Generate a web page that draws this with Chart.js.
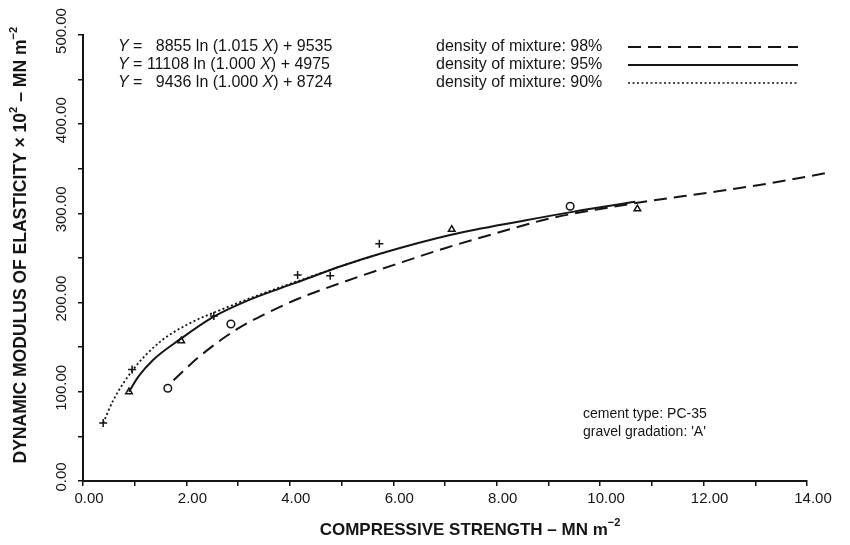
<!DOCTYPE html>
<html>
<head>
<meta charset="utf-8">
<script src="https://cdn.jsdelivr.net/npm/chart.js@4.4.1/dist/chart.umd.min.js"></script>
<style>
  html, body { margin: 0; background: #fff; }
  #wrap { width: 850px; height: 545px; position: relative; }
</style>
</head>
<body>
<div id="wrap"><canvas id="c"></canvas></div>
<script>
// fitted curves
const curve98X = [1.75, 2.26, 2.97, 3.55, 4.15, 5.08, 6.0, 7.0, 8.0, 9.0, 10.0, 10.85, 12.3, 13.3, 14.35];
const curve98Y = [113, 140, 170, 188, 204, 224, 242, 261, 278, 294, 305, 313, 325, 334, 345];
const curve95X = [0.89, 1.07, 1.36, 1.88, 2.52, 3.17, 3.81, 4.2, 5.0, 5.76, 7.12, 8.54, 9.49, 10.68];
const curve95Y = [100, 117, 136, 159, 184, 202, 216, 224, 241, 255, 276, 292, 302, 313];
const curve90X = [0.39, 0.59, 0.97, 1.49, 2.07, 2.71, 3.42, 4.1, 5.0, 5.7];
const curve90Y = [65, 91, 125, 156, 177, 193, 209, 223, 241, 254];

// measured points
const circlesX = [1.64, 2.86, 9.42, 14.2];
const circlesY = [104, 176, 308, 338];
const trianglesX = [0.89, 1.9, 7.13, 10.72];
const trianglesY = [100, 157, 282, 305];
const crossesX = [0.39, 0.95, 2.53, 4.15, 4.78, 5.73];
const crossesY = [65, 125, 185, 231, 230, 266];

// ticks
const xTicks = [0, 2, 4, 6, 8, 10, 12, 14];
const yTicks = [0, 100, 200, 300, 400, 500];

const ink = '#151515';
const pts = (xs, ys) => xs.map((x, i) => ({ x: x, y: ys[i] }));

// draws a run of text pieces (italic / superscript) starting at x
function drawParts(ctx, parts, x, y, size, weight) {
  let cx = x;
  parts.forEach(p => {
    const s = p.sup ? size * 0.65 : size;
    ctx.font = (p.i ? 'italic ' : '') + (weight || '') + ' ' + s + 'px "Liberation Sans"';
    ctx.fillText(p.t, cx, p.sup ? y - size * 0.4 : y);
    cx += ctx.measureText(p.t).width;
  });
  return cx - x;
}
function partsWidth(ctx, parts, size, weight) {
  let w = 0;
  parts.forEach(p => {
    const s = p.sup ? size * 0.65 : size;
    ctx.font = (p.i ? 'italic ' : '') + (weight || '') + ' ' + s + 'px "Liberation Sans"';
    w += ctx.measureText(p.t).width;
  });
  return w;
}

const legendRows = [
  { eq: [{ t: 'Y', i: true }, { t: ' =   8855 ln (1.015 ' }, { t: 'X', i: true }, { t: ') + 9535' }], label: 'density of mixture: 98%', dash: [13, 7] },
  { eq: [{ t: 'Y', i: true }, { t: ' = 11108 ln (1.000 ' }, { t: 'X', i: true }, { t: ') + 4975' }], label: 'density of mixture: 95%', dash: [] },
  { eq: [{ t: 'Y', i: true }, { t: ' =   9436 ln (1.000 ' }, { t: 'X', i: true }, { t: ') + 8724' }], label: 'density of mixture: 90%', dash: [2, 2.5] }
];

const textPlugin = {
  id: 'texts',
  afterDraw(chart) {
    const ctx = chart.ctx;
    const ys = chart.scales.y;
    ctx.save();
    ctx.fillStyle = ink;
    ctx.textBaseline = 'middle';
    ctx.textAlign = 'left';

    // legend block
    legendRows.forEach((r, i) => {
      const y = 47 + i * 18;
      drawParts(ctx, r.eq, 118, y, 16, '');
      ctx.font = '16px "Liberation Sans"';
      ctx.fillText(r.label, 436, y);
      ctx.save();
      ctx.strokeStyle = ink;
      ctx.lineWidth = r.dash.length && r.dash[0] < 3 ? 1.6 : 2;
      ctx.setLineDash(r.dash);
      ctx.beginPath();
      ctx.moveTo(628, y);
      ctx.lineTo(798, y);
      ctx.stroke();
      ctx.restore();
    });

    // note bottom right
    ctx.font = '14px "Liberation Sans"';
    ctx.fillText('cement type: PC-35', 583, 414);
    ctx.fillText("gravel gradation: 'A'", 583, 432);

    // y tick labels, rotated
    ctx.font = '15px "Liberation Sans"';
    ctx.textAlign = 'center';
    yTicks.forEach(v => {
      const py = ys.getPixelForValue(v);
      ctx.save();
      ctx.translate(62, py - 4);
      ctx.rotate(-Math.PI / 2);
      ctx.fillText(v.toFixed(2), 0, 0);
      ctx.restore();
    });

    // axis titles
    ctx.textAlign = 'left';
    const xt = [{ t: 'COMPRESSIVE STRENGTH – MN m' }, { t: '−2', sup: true }];
    const xw = partsWidth(ctx, xt, 17, 'bold');
    drawParts(ctx, xt, 470 - xw / 2, 530, 17, 'bold');

    const yt = [{ t: 'DYNAMIC MODULUS OF ELASTICITY × 10' }, { t: '2', sup: true }, { t: ' – MN m' }, { t: '−2', sup: true }];
    const yw = partsWidth(ctx, yt, 17.5, 'bold');
    ctx.translate(21, 245);
    ctx.rotate(-Math.PI / 2);
    drawParts(ctx, yt, -yw / 2, 0, 17.5, 'bold');
    ctx.restore();
  }
};

const lineBase = { borderColor: ink, borderWidth: 2, pointRadius: 0, fill: false, cubicInterpolationMode: 'monotone', clip: false };
const markBase = { showLine: false, borderColor: ink, backgroundColor: '#fff', pointBorderWidth: 1.5, pointRadius: 3.8, clip: false };

new Chart(document.getElementById('c'), {
  type: 'line',
  data: {
    datasets: [
      { ...lineBase, label: '98%', data: pts(curve98X, curve98Y), borderDash: [13, 7] },
      { ...lineBase, label: '95%', data: pts(curve95X, curve95Y) },
      { ...lineBase, label: '90%', data: pts(curve90X, curve90Y), borderDash: [2, 2.5], borderWidth: 1.8 },
      { ...markBase, label: 'o', data: pts(circlesX, circlesY), pointStyle: 'circle' },
      { ...markBase, label: 'tri', data: pts(trianglesX, trianglesY), pointStyle: 'triangle' },
      { ...markBase, label: '+', data: pts(crossesX, crossesY), pointStyle: 'cross', pointRadius: 4 }
    ]
  },
  options: {
    responsive: true,
    maintainAspectRatio: false,
    animation: false,
    layout: { padding: { top: 35, right: 43, left: 0, bottom: 0 } },
    plugins: { legend: { display: false }, tooltip: { enabled: false } },
    scales: {
      x: {
        type: 'linear',
        min: 0,
        max: 14,
        afterFit(s) { s.height = 64; },
        afterBuildTicks(s) { s.ticks = Array.from({ length: 15 }, (_, i) => ({ value: i })); },
        ticks: {
          autoSkip: false,
          maxRotation: 0,
          color: ink,
          labelOffset: 6,
          padding: 4,
          font: { family: 'Liberation Sans', size: 15 },
          callback: v => xTicks.includes(v) ? v.toFixed(2) : ''
        },
        grid: { drawOnChartArea: false, drawTicks: true, tickLength: 5, color: ink, lineWidth: 1.5 },
        border: { display: true, color: ink, width: 2 }
      },
      y: {
        min: 0,
        max: 500,
        afterFit(s) { s.width = 83; },
        afterBuildTicks(s) { s.ticks = Array.from({ length: 11 }, (_, i) => ({ value: i * 50 })); },
        ticks: { display: false },
        grid: { drawOnChartArea: false, drawTicks: true, tickLength: 5, color: ink, lineWidth: 1.5 },
        border: { display: true, color: ink, width: 2 }
      }
    }
  },
  plugins: [textPlugin]
});
</script>
</body>
</html>
